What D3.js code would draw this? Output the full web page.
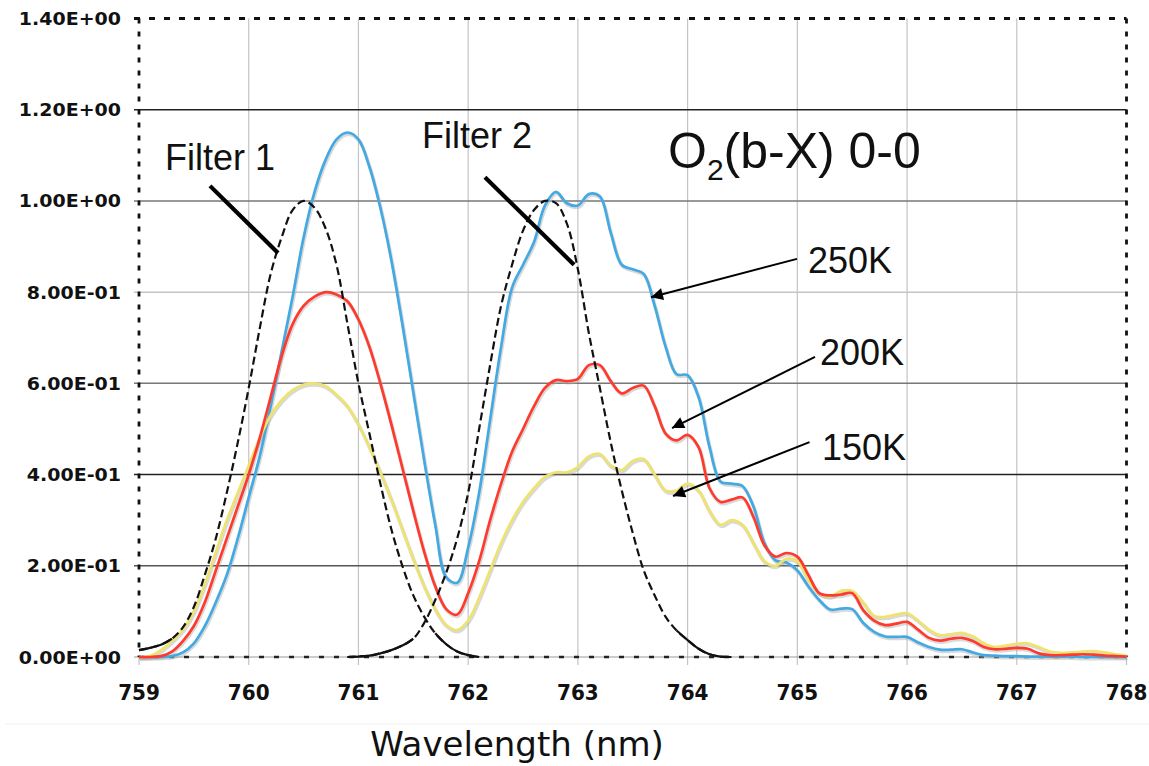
<!DOCTYPE html>
<html>
<head>
<meta charset="utf-8">
<script src="https://cdn.jsdelivr.net/npm/d3@7"></script>
<style>
  body { margin: 0; background: #fff; }
  svg { display: block; }
</style>
</head>
<body>
<div id="chart"></div>
<script>
// Wavelength grid (nm), 0.1 nm steps 759 -> 768
var wavelengths = d3.range(0, 91).map(function (i) { return +(759 + i / 10).toFixed(1) })

// Spectra, one value per wavelength
var k250 = [0, 0, 0, 0.002, 0.01, 0.03, 0.068, 0.12, 0.18, 0.26,
  0.35, 0.44, 0.55, 0.67, 0.79, 0.92, 1.02, 1.09, 1.135, 1.15,
  1.135, 1.075, 0.985, 0.87, 0.73, 0.58, 0.43, 0.29, 0.175, 0.163,
  0.24, 0.36, 0.52, 0.68, 0.81, 0.86, 0.91, 0.99, 1.02, 0.995,
  0.99, 1.015, 1.01, 0.93, 0.86, 0.85, 0.84, 0.77, 0.68, 0.62,
  0.618, 0.57, 0.46, 0.385, 0.38, 0.375, 0.33, 0.25, 0.212, 0.207,
  0.19, 0.155, 0.125, 0.104, 0.106, 0.105, 0.075, 0.055, 0.045, 0.044,
  0.044, 0.032, 0.022, 0.016, 0.016, 0.017, 0.01, 0.004, 0.003, 0.002,
  0.002, 0.001, 0.001, 0.001, 0.001, 0.001, 0, 0, 0, 0, 0]

var k200 = [0, 0, 0.002, 0.012, 0.035, 0.068, 0.12, 0.19, 0.26, 0.33,
  0.4, 0.48, 0.57, 0.66, 0.73, 0.77, 0.79, 0.8, 0.795, 0.78,
  0.74, 0.68, 0.6, 0.51, 0.415, 0.32, 0.23, 0.155, 0.105, 0.093,
  0.14, 0.21, 0.3, 0.38, 0.45, 0.5, 0.55, 0.59, 0.607, 0.605,
  0.61, 0.64, 0.64, 0.605, 0.578, 0.59, 0.595, 0.55, 0.49, 0.475,
  0.487, 0.46, 0.37, 0.34, 0.345, 0.35, 0.307, 0.245, 0.22, 0.228,
  0.22, 0.18, 0.14, 0.135, 0.137, 0.14, 0.103, 0.08, 0.07, 0.073,
  0.077, 0.06, 0.042, 0.036, 0.04, 0.042, 0.035, 0.022, 0.017, 0.018,
  0.02, 0.018, 0.008, 0.004, 0.004, 0.005, 0.006, 0.005, 0.003, 0.002, 0.001]

var k150 = [0, 0.002, 0.015, 0.035, 0.06, 0.1, 0.16, 0.23, 0.3, 0.36,
  0.42, 0.48, 0.53, 0.563, 0.585, 0.597, 0.6, 0.594, 0.575, 0.55,
  0.51, 0.46, 0.405, 0.345, 0.28, 0.215, 0.155, 0.105, 0.07, 0.059,
  0.08, 0.13, 0.19, 0.25, 0.3, 0.34, 0.37, 0.395, 0.405, 0.405,
  0.417, 0.44, 0.445, 0.42, 0.41, 0.43, 0.434, 0.4, 0.365, 0.365,
  0.38, 0.365, 0.32, 0.29, 0.3, 0.29, 0.25, 0.21, 0.2, 0.215,
  0.21, 0.17, 0.14, 0.133, 0.145, 0.145, 0.12, 0.09, 0.088, 0.093,
  0.096, 0.08, 0.06, 0.048, 0.05, 0.053, 0.045, 0.03, 0.022, 0.025,
  0.029, 0.03, 0.022, 0.012, 0.009, 0.01, 0.012, 0.013, 0.01, 0.006, 0.003]

// Filter transmission curves (dashed)
var filter1Wl = [759.0, 759.1, 759.2, 759.3, 759.4, 759.5, 759.6, 759.7, 759.8, 759.9,
  760.0, 760.1, 760.2, 760.3, 760.4, 760.5, 760.6, 760.7, 760.8, 760.9,
  761.0, 761.1, 761.2, 761.3, 761.4, 761.5, 761.6, 761.7, 761.8, 761.9, 762.0, 762.1]
var filter1 = [0.015, 0.02, 0.027, 0.04, 0.065, 0.11, 0.18, 0.26, 0.36, 0.47,
  0.59, 0.72, 0.84, 0.92, 0.98, 1.0, 0.985, 0.94, 0.86, 0.73,
  0.6, 0.49, 0.38, 0.28, 0.2, 0.135, 0.088, 0.052, 0.028, 0.012, 0.004, 0]

var filter2Wl = [760.9, 761.0, 761.1, 761.2, 761.3, 761.4, 761.5, 761.6, 761.7, 761.8, 761.9,
  762.0, 762.1, 762.2, 762.3, 762.4, 762.5, 762.6, 762.7, 762.8, 762.9,
  763.0, 763.1, 763.2, 763.3, 763.4, 763.5, 763.6, 763.7, 763.8, 763.9,
  764.0, 764.1, 764.2, 764.3, 764.4]
var filter2 = [0, 0.001, 0.003, 0.008, 0.015, 0.025, 0.04, 0.075, 0.125, 0.185, 0.26,
  0.36, 0.5, 0.64, 0.77, 0.86, 0.935, 0.98, 1.0, 0.995, 0.95,
  0.85, 0.71, 0.59, 0.47, 0.365, 0.272, 0.19, 0.135, 0.088, 0.058,
  0.037, 0.018, 0.006, 0.001, 0]

var xTicks = [759, 760, 761, 762, 763, 764, 765, 766, 767, 768]
var yTicks = [0, 0.2, 0.4, 0.6, 0.8, 1.0, 1.2, 1.4]

var seriesNames = ['250K', '200K', '150K']
var seriesColors = ['#43a9e2', '#ff3a2c', '#eee36e']

// Set window height + width
var width = 1149
var height = 766

var x = d3.scaleLinear().domain([759, 768]).range([139, 1126.5])
var y = d3.scaleLinear().domain([0, 1.4]).range([657, 18.5])

var svg = d3.select('#chart')
  .append('svg')
  .attr('width', width)
  .attr('height', height)

svg.append('rect')
  .attr('width', width)
  .attr('height', height)
  .attr('fill', '#fff')

// faint scan line under tick labels
svg.append('line')
  .attr('x1', 5).attr('x2', width)
  .attr('y1', 724).attr('y2', 724)
  .style('stroke', '#f0f0f0')
  .style('stroke-width', 1)

// vertical grid lines (extend a little below the axis)
svg.selectAll('.vgrid')
  .data(xTicks.slice(1, -1))
  .enter()
  .append('line')
  .attr('class', 'vgrid')
  .attr('x1', function (d) { return x(d) })
  .attr('x2', function (d) { return x(d) })
  .attr('y1', y(1.4))
  .attr('y2', y(0) + 8)
  .style('stroke', '#c4c4c4')
  .style('stroke-width', 1.2)

svg.selectAll('.xtickend')
  .data([759, 768])
  .enter()
  .append('line')
  .attr('x1', function (d) { return x(d) })
  .attr('x2', function (d) { return x(d) })
  .attr('y1', y(0))
  .attr('y2', y(0) + 8)
  .style('stroke', '#c4c4c4')
  .style('stroke-width', 1.2)

// horizontal grid lines
var gridShade = { '0.2': '#555', '0.4': '#222', '0.6': '#777', '0.8': '#c4c4c4', '1': '#777', '1.2': '#222' }
svg.selectAll('.hgrid')
  .data(yTicks.slice(1, -1))
  .enter()
  .append('line')
  .attr('class', 'hgrid')
  .attr('x1', x(759) - 5)
  .attr('x2', x(768))
  .attr('y1', function (d) { return y(d) })
  .attr('y2', function (d) { return y(d) })
  .style('stroke', function (d) { return gridShade[String(d)] })
  .style('stroke-width', 1.5)

// zero line + dotted frame
svg.append('line')
  .attr('x1', x(759) - 5).attr('x2', x(768))
  .attr('y1', y(0)).attr('y2', y(0))
  .style('stroke', '#999')
  .style('stroke-width', 1.2)

svg.append('line')
  .attr('x1', x(759)).attr('x2', x(768))
  .attr('y1', y(0)).attr('y2', y(0))
  .style('stroke', '#222')
  .style('stroke-width', 2.4)
  .style('stroke-dasharray', '5,10')

svg.append('line')
  .attr('x1', x(759) - 5).attr('x2', x(768))
  .attr('y1', y(1.4)).attr('y2', y(1.4))
  .style('stroke', '#111')
  .style('stroke-width', 2.8)
  .style('stroke-dasharray', '6,9')

svg.selectAll('.vframe')
  .data([759, 768])
  .enter()
  .append('line')
  .attr('x1', function (d) { return x(d) })
  .attr('x2', function (d) { return x(d) })
  .attr('y1', y(1.4))
  .attr('y2', y(0))
  .style('stroke', '#111')
  .style('stroke-width', 2.8)
  .style('stroke-dasharray', '5,8')

// y tick labels like 1.40E+00
function sci (v) {
  var parts = v.toExponential(2).split('e')
  var e = parts[1]
  return parts[0] + 'E' + e[0] + e.slice(1).padStart(2, '0')
}

svg.selectAll('.ylab')
  .data(yTicks)
  .enter()
  .append('text')
  .attr('transform', function (d) { return 'translate(121,' + (y(d) + 6.5) + ') scale(1,0.92)' })
  .attr('text-anchor', 'end')
  .attr('font-family', 'DejaVu Sans')
  .attr('font-weight', 'bold')
  .attr('font-size', '19px')
  .attr('fill', '#111')
  .text(sci)

svg.selectAll('.xlab')
  .data(xTicks)
  .enter()
  .append('text')
  .attr('transform', function (d) { return 'translate(' + x(d) + ',700) scale(1,1.1)' })
  .attr('text-anchor', 'middle')
  .attr('font-family', 'DejaVu Sans')
  .attr('font-weight', 'bold')
  .attr('font-size', '20px')
  .attr('fill', '#111')
  .text(function (d) { return d })

svg.append('text')
  .attr('x', 517)
  .attr('y', 756)
  .attr('text-anchor', 'middle')
  .attr('font-family', 'DejaVu Sans')
  .attr('font-size', '34px')
  .attr('fill', '#111')
  .text('Wavelength (nm)')

// spectra
var series = [k250, k200, k150].map(function (vals, i) {
  return {
    name: seriesNames[i],
    color: seriesColors[i],
    points: wavelengths.map(function (w, j) { return { w: w, v: vals[j] } })
  }
})

var line = d3.line()
  .x(function (d) { return x(d.w) })
  .y(function (d) { return y(d.v) })
  .curve(d3.curveCatmullRom.alpha(0.5))

var drawOrder = [series[0], series[2], series[1]]

svg.selectAll('.shadow')
  .data(drawOrder)
  .enter()
  .append('path')
  .attr('d', function (d) { return line(d.points) })
  .attr('transform', 'translate(0.8,1.6)')
  .style('fill', 'none')
  .style('stroke', '#aaa')
  .style('stroke-opacity', 0.45)
  .style('stroke-width', 3.6)

svg.selectAll('.spectrum')
  .data(drawOrder)
  .enter()
  .append('path')
  .attr('class', 'spectrum')
  .attr('d', function (d) { return line(d.points) })
  .style('fill', 'none')
  .style('stroke', function (d) { return d.color })
  .style('stroke-width', 2.7)

// filters: dashed, with the low tails drawn solid
var filters = [
  filter1Wl.map(function (w, j) { return { w: w, v: filter1[j] } }),
  filter2Wl.map(function (w, j) { return { w: w, v: filter2[j] } })
]

svg.selectAll('.filter')
  .data(filters)
  .enter()
  .append('path')
  .attr('d', line)
  .style('fill', 'none')
  .style('stroke', '#111')
  .style('stroke-width', 2.2)
  .style('stroke-dasharray', '8,4')

var tail = d3.line()
  .defined(function (d) { return d.v <= 0.06 })
  .x(function (d) { return x(d.w) })
  .y(function (d) { return y(d.v) })
  .curve(d3.curveCatmullRom.alpha(0.5))

svg.selectAll('.filtertail')
  .data(filters)
  .enter()
  .append('path')
  .attr('d', tail)
  .style('fill', 'none')
  .style('stroke', '#111')
  .style('stroke-width', 2.2)

// annotations
svg.append('defs')
  .append('marker')
  .attr('id', 'arrow')
  .attr('viewBox', '0 0 10 10')
  .attr('refX', 10)
  .attr('refY', 5)
  .attr('markerWidth', 8)
  .attr('markerHeight', 6)
  .attr('markerUnits', 'strokeWidth')
  .attr('orient', 'auto')
  .append('path')
  .attr('d', 'M0,0L10,5L0,10Z')
  .attr('fill', '#000')

var pointers = [
  { from: [759.647, 1.033], to: [760.267, 0.886] },
  { from: [762.153, 1.052], to: [762.965, 0.86] }
]

svg.selectAll('.pointer')
  .data(pointers)
  .enter()
  .append('line')
  .attr('x1', function (d) { return x(d.from[0]) })
  .attr('y1', function (d) { return y(d.from[1]) })
  .attr('x2', function (d) { return x(d.to[0]) })
  .attr('y2', function (d) { return y(d.to[1]) })
  .style('stroke', '#000')
  .style('stroke-width', 4.2)

var arrows = [
  { from: [764.997, 0.873], to: [763.666, 0.789] },
  { from: [765.161, 0.658], to: [763.858, 0.502] },
  { from: [765.111, 0.471], to: [763.867, 0.353] }
]

svg.selectAll('.arrow')
  .data(arrows)
  .enter()
  .append('line')
  .attr('x1', function (d) { return x(d.from[0]) })
  .attr('y1', function (d) { return y(d.from[1]) })
  .attr('x2', function (d) { return x(d.to[0]) })
  .attr('y2', function (d) { return y(d.to[1]) })
  .style('stroke', '#000')
  .style('stroke-width', 2)
  .attr('marker-end', 'url(#arrow)')

var labels = [
  { text: 'Filter 1', at: [759.237, 1.068] },
  { text: 'Filter 2', at: [761.579, 1.116] },
  { text: seriesNames[0], at: [765.097, 0.842] },
  { text: seriesNames[1], at: [765.207, 0.640] },
  { text: seriesNames[2], at: [765.225, 0.432] }
]

svg.selectAll('.label')
  .data(labels)
  .enter()
  .append('text')
  .attr('x', function (d) { return x(d.at[0]) })
  .attr('y', function (d) { return y(d.at[1]) })
  .attr('font-family', 'Liberation Sans, Arial, sans-serif')
  .attr('font-size', '36px')
  .attr('fill', '#111')
  .text(function (d) { return d.text })

var title = svg.append('text')
  .attr('x', x(763.821))
  .attr('y', y(1.072))
  .attr('font-family', 'Liberation Sans, Arial, sans-serif')
  .attr('font-size', '50px')
  .attr('fill', '#111')
title.append('tspan').text('O')
title.append('tspan').attr('font-size', '30px').attr('dy', 12).text('2')
title.append('tspan').attr('dy', -12).text('(b-X) 0-0')
</script>
</body>
</html>
